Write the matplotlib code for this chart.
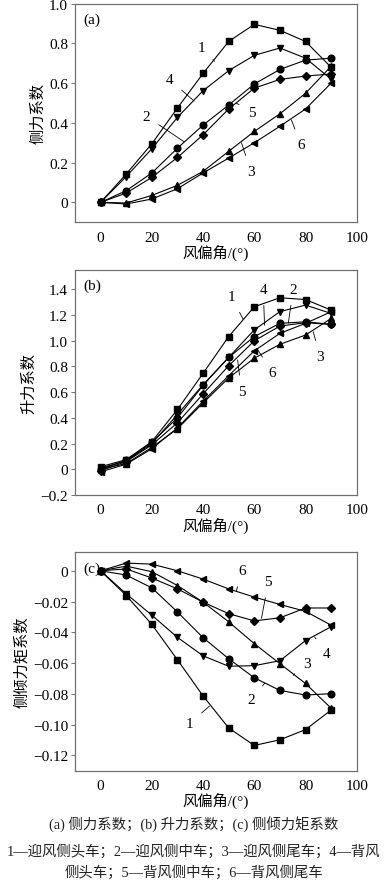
import matplotlib
matplotlib.use("Agg")
import matplotlib.pyplot as plt

plt.rcParams['font.family'] = ['Liberation Serif', 'Noto Sans CJK SC']
plt.rcParams['axes.unicode_minus'] = True

angles = [0, 10, 20, 30, 40, 50, 60, 70, 80, 90]
series_ids = ['1', '2', '3', '4', '5', '6']
markers = ['s', 'o', '^', 'v', 'D', '<']

# (a) side force coefficient
side_force = {
    '1': [0, 0.143, 0.295, 0.475, 0.649, 0.810, 0.896, 0.866, 0.810, 0.680],
    '2': [0, 0.059, 0.148, 0.273, 0.389, 0.490, 0.596, 0.669, 0.716, 0.726],
    '3': [0, -0.003, 0.035, 0.086, 0.156, 0.257, 0.357, 0.446, 0.549, 0.685],
    '4': [0, 0.130, 0.270, 0.428, 0.562, 0.663, 0.740, 0.777, 0.726, 0.620],
    '5': [0, 0.047, 0.126, 0.226, 0.340, 0.470, 0.575, 0.619, 0.636, 0.646],
    '6': [0, -0.008, 0.017, 0.069, 0.148, 0.223, 0.300, 0.383, 0.470, 0.600],
}
# (b) lift coefficient
lift = {
    '1': [0.02, 0.075, 0.215, 0.465, 0.746, 1.032, 1.264, 1.334, 1.320, 1.238],
    '2': [0.00, 0.070, 0.210, 0.400, 0.653, 0.870, 1.032, 1.135, 1.147, 1.127],
    '3': [0.00, 0.045, 0.170, 0.315, 0.516, 0.710, 0.864, 0.972, 1.044, 1.173],
    '4': [0.01, 0.065, 0.200, 0.426, 0.658, 0.870, 1.084, 1.226, 1.277, 1.212],
    '5': [-0.01, 0.060, 0.190, 0.362, 0.586, 0.805, 0.999, 1.114, 1.140, 1.127],
    '6': [-0.02, 0.040, 0.160, 0.323, 0.529, 0.728, 0.921, 1.057, 1.135, 1.225],
}
# (c) overturning moment coefficient
moment = {
    '1': [0, -0.0161, -0.0349, -0.0579, -0.0814, -0.1022, -0.1136, -0.1099, -0.1033, -0.0906],
    '2': [0, -0.0028, -0.0111, -0.0268, -0.0435, -0.0572, -0.0696, -0.0778, -0.0808, -0.0799],
    '3': [0, 0.0030, -0.0006, -0.0096, -0.0204, -0.0332, -0.0474, -0.0604, -0.0733, -0.0894],
    '4': [0, -0.0150, -0.0289, -0.0433, -0.0553, -0.0621, -0.0617, -0.0585, -0.0454, -0.0364],
    '5': [0, 0.0012, -0.0047, -0.0118, -0.0204, -0.0279, -0.0326, -0.0306, -0.0242, -0.0242],
    '6': [0, 0.0050, 0.0043, 0.0000, -0.0054, -0.0118, -0.0171, -0.0219, -0.0264, -0.0354],
}

# label text position and leader tip (data coords)
labels_a = {'1': ((39.4, 0.78), (44.5, 0.71)), '4': ((27, 0.617), (36.5, 0.51)),
            '2': ((17.9, 0.433), (32.6, 0.305)), '5': ((58.9, 0.45), (53, 0.50)),
            '6': ((78.2, 0.29), (74.5, 0.415)), '3': ((58.7, 0.156), (55, 0.30))}
labels_b = {'1': ((51.1, 1.34), (55.7, 1.165)), '4': ((63.5, 1.40), (64, 1.12)),
            '2': ((75.2, 1.40), (73.3, 1.137)), '3': ((85.7, 0.877), (83, 1.07)),
            '6': ((67, 0.755), (61, 0.94)), '5': ((55, 0.607), (53.5, 0.85))}
labels_c = {'6': ((55.3, 0.0), (53, -0.013)), '5': ((65.5, -0.0071), (62.8, -0.031)),
            '4': ((88.3, -0.0536), (83.5, -0.043)), '3': ((80.4, -0.060), (75.2, -0.068)),
            '2': ((58.9, -0.0836), (64.1, -0.073)), '1': ((34.8, -0.0992), (42.5, -0.088))}

panels = [
    ('(a)', side_force, labels_a, '侧力系数', (-0.1, 1.0), [0, 0.2, 0.4, 0.6, 0.8, 1.0],
     ['0', '0.2', '0.4', '0.6', '0.8', '1.0'], [0.1938, 0.7483, 0.728, 0.2464]),
    ('(b)', lift, labels_b, '升力系数', (-0.2, 1.55), [-0.2, 0, 0.2, 0.4, 0.6, 0.8, 1.0, 1.2, 1.4],
     ['−0.2', '0', '0.2', '0.4', '0.6', '0.8', '1.0', '1.2', '1.4'], [0.1938, 0.4408, 0.728, 0.2537]),
    ('(c)', moment, labels_c, '侧倾力矩系数', (-0.13, 0.012),
     [-0.12, -0.10, -0.08, -0.06, -0.04, -0.02, 0],
     ['−0.12', '−0.10', '−0.08', '−0.06', '−0.04', '−0.02', '0'], [0.1938, 0.1300, 0.728, 0.2462]),
]

fig = plt.figure(figsize=(3.87, 8.87), dpi=100)
frame_col = '#707070'
for tag, data, labs, ylab, ylim, yt, ytl, pos in panels:
    ax = fig.add_axes(pos)
    for sid, mk in zip(series_ids, markers):
        ms = 4.2 if mk == 'D' else 4.8
        ax.plot(angles, data[sid], color='black', lw=0.8, marker=mk, ms=ms,
                markerfacecolor='black', markeredgecolor='black')
    for sid, (tp, tip) in labs.items():
        ax.annotate(sid, xy=tip, xytext=tp, fontsize=11, ha='center', va='center',
                    arrowprops=dict(arrowstyle='-', lw=0.6, color='black', shrinkA=5, shrinkB=0))
    ax.set_xlim(-10, 100)
    ax.set_ylim(*ylim)
    ax.set_xticks([0, 20, 40, 60, 80, 100])
    ax.set_yticks(yt)
    ax.set_yticklabels(ytl)
    ax.tick_params(axis='both', direction='out', length=3, width=0.7, color=frame_col,
                   labelsize=11, pad=2)
    ax.tick_params(axis='x', length=0, pad=6)
    for sp in ax.spines.values():
        sp.set_color(frame_col)
        sp.set_linewidth(0.9)
    ax.set_xlabel('风偏角/(°)', fontsize=11, labelpad=0)
    ax.set_ylabel(ylab, fontsize=11, labelpad=3)
    ax.text(0.03, 0.96, tag, transform=ax.transAxes, fontsize=11, ha='left', va='top')

cap_kw = dict(ha='center', va='center', fontsize=10.4, color='#222222')
fig.text(0.5, 1 - 825 / 887, '(a) 侧力系数；(b) 升力系数；(c) 侧倾力矩系数', **cap_kw)
fig.text(0.5, 1 - 852 / 887, '1—迎风侧头车；2—迎风侧中车；3—迎风侧尾车；4—背风', **cap_kw)
fig.text(0.5, 1 - 873 / 887, '侧头车；5—背风侧中车；6—背风侧尾车', **cap_kw)

fig.savefig('out.png', dpi=100)
